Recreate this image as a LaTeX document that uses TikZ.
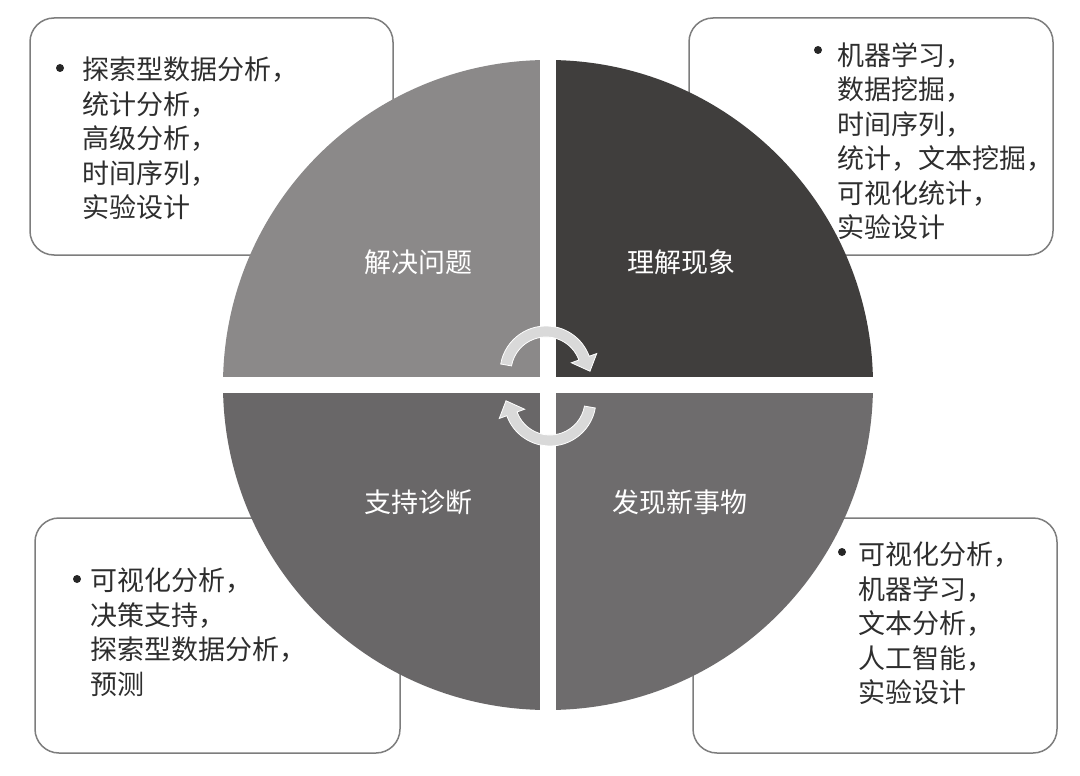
\documentclass[tikz,border=0pt]{standalone}
\usepackage{fontspec}
\usepackage{tikz}
\usetikzlibrary{calc}
\newfontfamily\cjk{Noto Sans CJK SC}

\definecolor{quadTL}{RGB}{139,137,137}
\definecolor{quadTR}{RGB}{64,62,61}
\definecolor{quadBL}{RGB}{105,103,104}
\definecolor{quadBR}{RGB}{110,108,109}
\definecolor{boxgray}{RGB}{125,125,125}
\definecolor{arrowgray}{RGB}{217,217,217}

\tikzset{
  infobox/.style={draw=boxgray, line width=1.5pt, rounded corners=24pt, fill=white},
  infotext/.style={anchor=north west, align=left, inner sep=0pt, text=black!82,
    font=\cjk\fontsize{27}{34.5}\selectfont},
  bulletdot/.style={circle, fill=black!85, inner sep=0pt, minimum size=8pt},
  quadlabel/.style={text=white, inner sep=0pt, font=\cjk\fontsize{27}{30}\selectfont},
  cyclearrow/.style={fill=arrowgray, draw=white, line width=0.8pt}
}

\begin{document}
\begin{tikzpicture}[x=1pt,y=-1pt]
\useasboundingbox (0,0) rectangle (1080,776);
\fill[white] (0,0) rectangle (1080,776);

%Centre of the circle and the two arrow centres
\coordinate (O) at (548,385);
\coordinate (A) at (546,372);
\coordinate (B) at (550,400);

%Boxes behind the circle
\draw[infobox] (30,18) rectangle (393,255);
\draw[infobox] (689,18) rectangle (1053,255);
\draw[infobox] (35,518) rectangle (400,753);
\draw[infobox] (693,518) rectangle (1057,753);

\node[bulletdot] (dotTL) at (60,68) {};
\node[infotext] (txtTL) at (82,57) {探索型数据分析，\\统计分析，\\高级分析，\\时间序列，\\实验设计};
\node[bulletdot] (dotTR) at (818,50) {};
\node[infotext] (txtTR) at (837,42) {机器学习，\\数据挖掘，\\时间序列，\\统计，文本挖掘，\\可视化统计，\\实验设计};
\node[bulletdot] (dotBL) at (77,579) {};
\node[infotext] (txtBL) at (90,568) {可视化分析，\\决策支持，\\探索型数据分析，\\预测};
\node[bulletdot] (dotBR) at (842,552) {};
\node[infotext] (txtBR) at (858,542) {可视化分析，\\机器学习，\\文本分析，\\人工智能，\\实验设计};

%The four quarters
\fill[quadTL] (O) -- ++(180:325) arc[start angle=180, end angle=270, radius=325] -- cycle;
\fill[quadTR] (O) -- ++(270:325) arc[start angle=270, end angle=360, radius=325] -- cycle;
\fill[quadBR] (O) -- ++(0:325) arc[start angle=0, end angle=90, radius=325] -- cycle;
\fill[quadBL] (O) -- ++(90:325) arc[start angle=90, end angle=180, radius=325] -- cycle;
\draw[white, line width=16pt] ($(O)+(0,-326)$) -- ($(O)+(0,326)$);
\draw[white, line width=16pt] ($(O)+(-326,0)$) -- ($(O)+(326,0)$);

\node[quadlabel] (solve) at (418,262) {解决问题};
\node[quadlabel] (understand) at (681,262) {理解现象};
\node[quadlabel] (support) at (418,502) {支持诊断};
\node[quadlabel] (discover) at (680,502) {发现新事物};

%Cycle arrows
\draw[cyclearrow] ($(A)+(190:46)$) arc[start angle=190, end angle=340, radius=46]
  -- ($(A)+(340:54)$) -- ($(A)+(359:44)$) -- ($(A)+(340:27)$)
  -- ($(A)+(340:35)$) arc[start angle=340, end angle=190, radius=35] -- cycle;
\draw[cyclearrow] ($(B)+(10:46)$) arc[start angle=10, end angle=160, radius=46]
  -- ($(B)+(160:54)$) -- ($(B)+(179:44)$) -- ($(B)+(160:27)$)
  -- ($(B)+(160:35)$) arc[start angle=160, end angle=10, radius=35] -- cycle;
\end{tikzpicture}
\end{document}
